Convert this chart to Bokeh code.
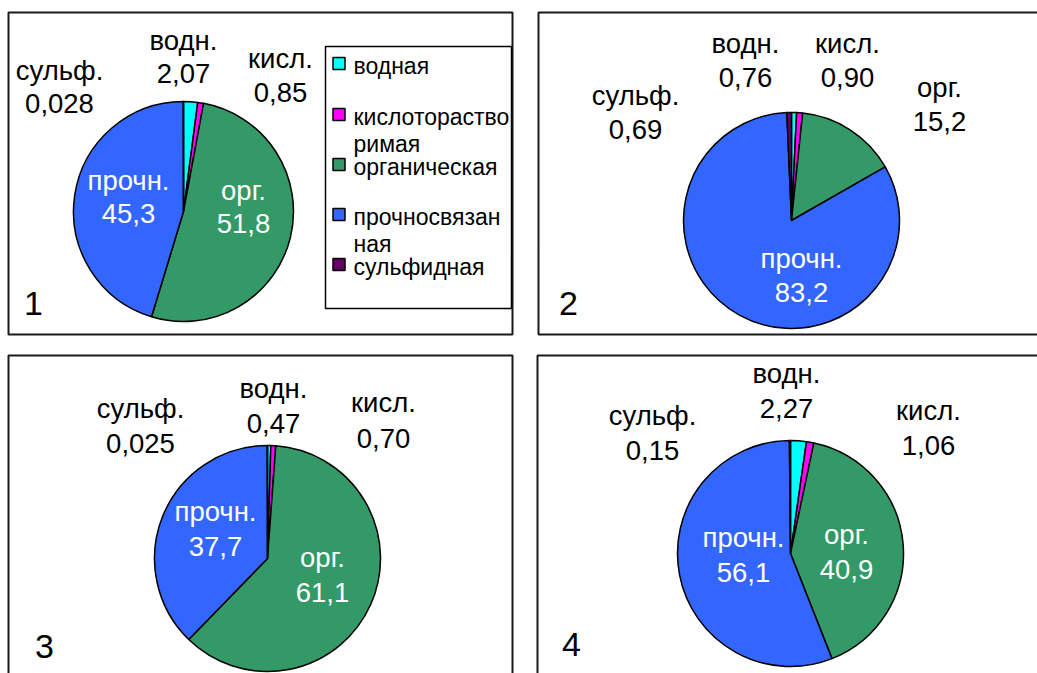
import math
from bokeh.plotting import figure
from bokeh.models import Range1d, ColumnDataSource
from bokeh.embed import file_html
from bokeh.resources import INLINE
from bokeh.core.properties import value

# ---------------- data ----------------
categories = ["водная", "кислоторастворимая", "органическая", "прочносвязанная", "сульфидная"]
short_names = ["водн.", "кисл.", "орг.", "прочн.", "сульф."]
colors = ["#00FFFF", "#FF00FF", "#339966", "#3366FF", "#660066"]

panel_numbers = ["1", "2", "3", "4"]

values_1 = [2.07, 0.85, 51.8, 45.3, 0.028]
values_2 = [0.76, 0.90, 15.2, 83.2, 0.69]
values_3 = [0.47, 0.70, 61.1, 37.7, 0.025]
values_4 = [2.27, 1.06, 40.9, 56.1, 0.15]

value_labels_1 = ["2,07", "0,85", "51,8", "45,3", "0,028"]
value_labels_2 = ["0,76", "0,90", "15,2", "83,2", "0,69"]
value_labels_3 = ["0,47", "0,70", "61,1", "37,7", "0,025"]
value_labels_4 = ["2,27", "1,06", "40,9", "56,1", "0,15"]

legend_lines = [["водная"], ["кислотораство", "римая"], ["органическая"],
                ["прочносвязан", "ная"], ["сульфидная"]]

# ---------------- layout (screen pixel coordinates) ----------------
W, H = 1037, 673
def Y(sy):
    return H - sy

frames = [(8, 12, 512, 334), (538, 12, 1045, 334), (8, 355, 512, 690), (537, 355, 1045, 690)]
pies = [(183, 211, 110), (791, 220, 108), (267, 558, 113), (790, 553, 113)]
number_pos = [(33, 303), (568, 303), (44, 646), (571, 644)]

# per-category label positions: (x, y_name, y_value, inside-white?)
label_pos = [
    [(183, 40, 73, False), (280, 58, 92, False), (243, 190, 223, True),
     (128, 180, 213, True), (59, 70, 103, False)],
    [(745, 43, 77, False), (847, 43, 77, False), (939, 87, 121, False),
     (801, 258, 292, True), (635, 95, 129, False)],
    [(273, 388, 423, False), (383, 402, 438, False), (322, 557, 592, True),
     (215, 511, 546, True), (140, 408, 443, False)],
    [(786, 373, 408, False), (928, 410, 445, False), (846, 534, 569, True),
     (743, 537, 572, True), (652, 415, 450, False)],
]

all_values = [values_1, values_2, values_3, values_4]
all_labels = [value_labels_1, value_labels_2, value_labels_3, value_labels_4]

FONT = value("Liberation Sans")

p = figure(width=W, height=H, x_range=Range1d(0, W), y_range=Range1d(0, H),
           toolbar_location=None, output_backend="svg", min_border=0)
p.axis.visible = False
p.xgrid.visible = False
p.ygrid.visible = False
p.outline_line_color = None
p.background_fill_color = "white"
p.border_fill_color = "white"

# panel frames
p.quad(left=[f[0] for f in frames], right=[f[2] for f in frames],
       top=[Y(f[1]) for f in frames], bottom=[Y(f[3]) for f in frames],
       fill_color=None, line_color="#1a1a1a", line_width=2)

for i, vals in enumerate(all_values):
    cx, cy, r = pies[i]
    total = sum(vals)
    starts, ends = [], []
    a = math.pi / 2
    for v in vals:
        starts.append(a)
        a -= 2 * math.pi * v / total
        ends.append(a)
    src = ColumnDataSource(dict(start=starts, end=ends, color=colors, name=categories))
    p.wedge(x=cx, y=Y(cy), radius=r, start_angle="start", end_angle="end",
            direction="clock", fill_color="color", line_color="black", line_width=1.5,
            source=src)

    xs, ys, txt, tcol = [], [], [], []
    for j, lab in enumerate(all_labels[i]):
        x, yn, yv, inside = label_pos[i][j]
        col = "white" if inside else "black"
        xs += [x, x]
        ys += [Y(yn), Y(yv)]
        txt += [short_names[j], lab]
        tcol += [col, col]
    p.text(x=xs, y=ys, text=txt, text_color=tcol, text_font=FONT, text_font_size="27.5px",
           text_align="center", text_baseline="middle")

    nx, ny = number_pos[i]
    p.text(x=[nx], y=[Y(ny)], text=[panel_numbers[i]], text_font=FONT, text_font_size="34px",
           text_align="center", text_baseline="middle", text_color="black")

# legend of panel 1
leg_left, leg_top, leg_right, leg_bottom = 325, 46, 511, 308
p.quad(left=[leg_left], right=[leg_right], top=[Y(leg_top)], bottom=[Y(leg_bottom)],
       fill_color="white", line_color="black", line_width=1.5)
row_y = [63, 114, 164, 214, 264]
p.rect(x=[338.5] * 5, y=[Y(v) for v in row_y], width=12, height=12,
       fill_color=colors, line_color="black", line_width=1.5)
lx, ly, lt = [], [], []
for k, lines in enumerate(legend_lines):
    for m, line in enumerate(lines):
        lx.append(353)
        ly.append(Y(row_y[k] + 2 + 27 * m))
        lt.append(line)
p.text(x=lx, y=ly, text=lt, text_font=FONT, text_font_size="23px",
       text_align="left", text_baseline="middle", text_color="black")

open("out.html", "w").write(file_html(p, INLINE))
